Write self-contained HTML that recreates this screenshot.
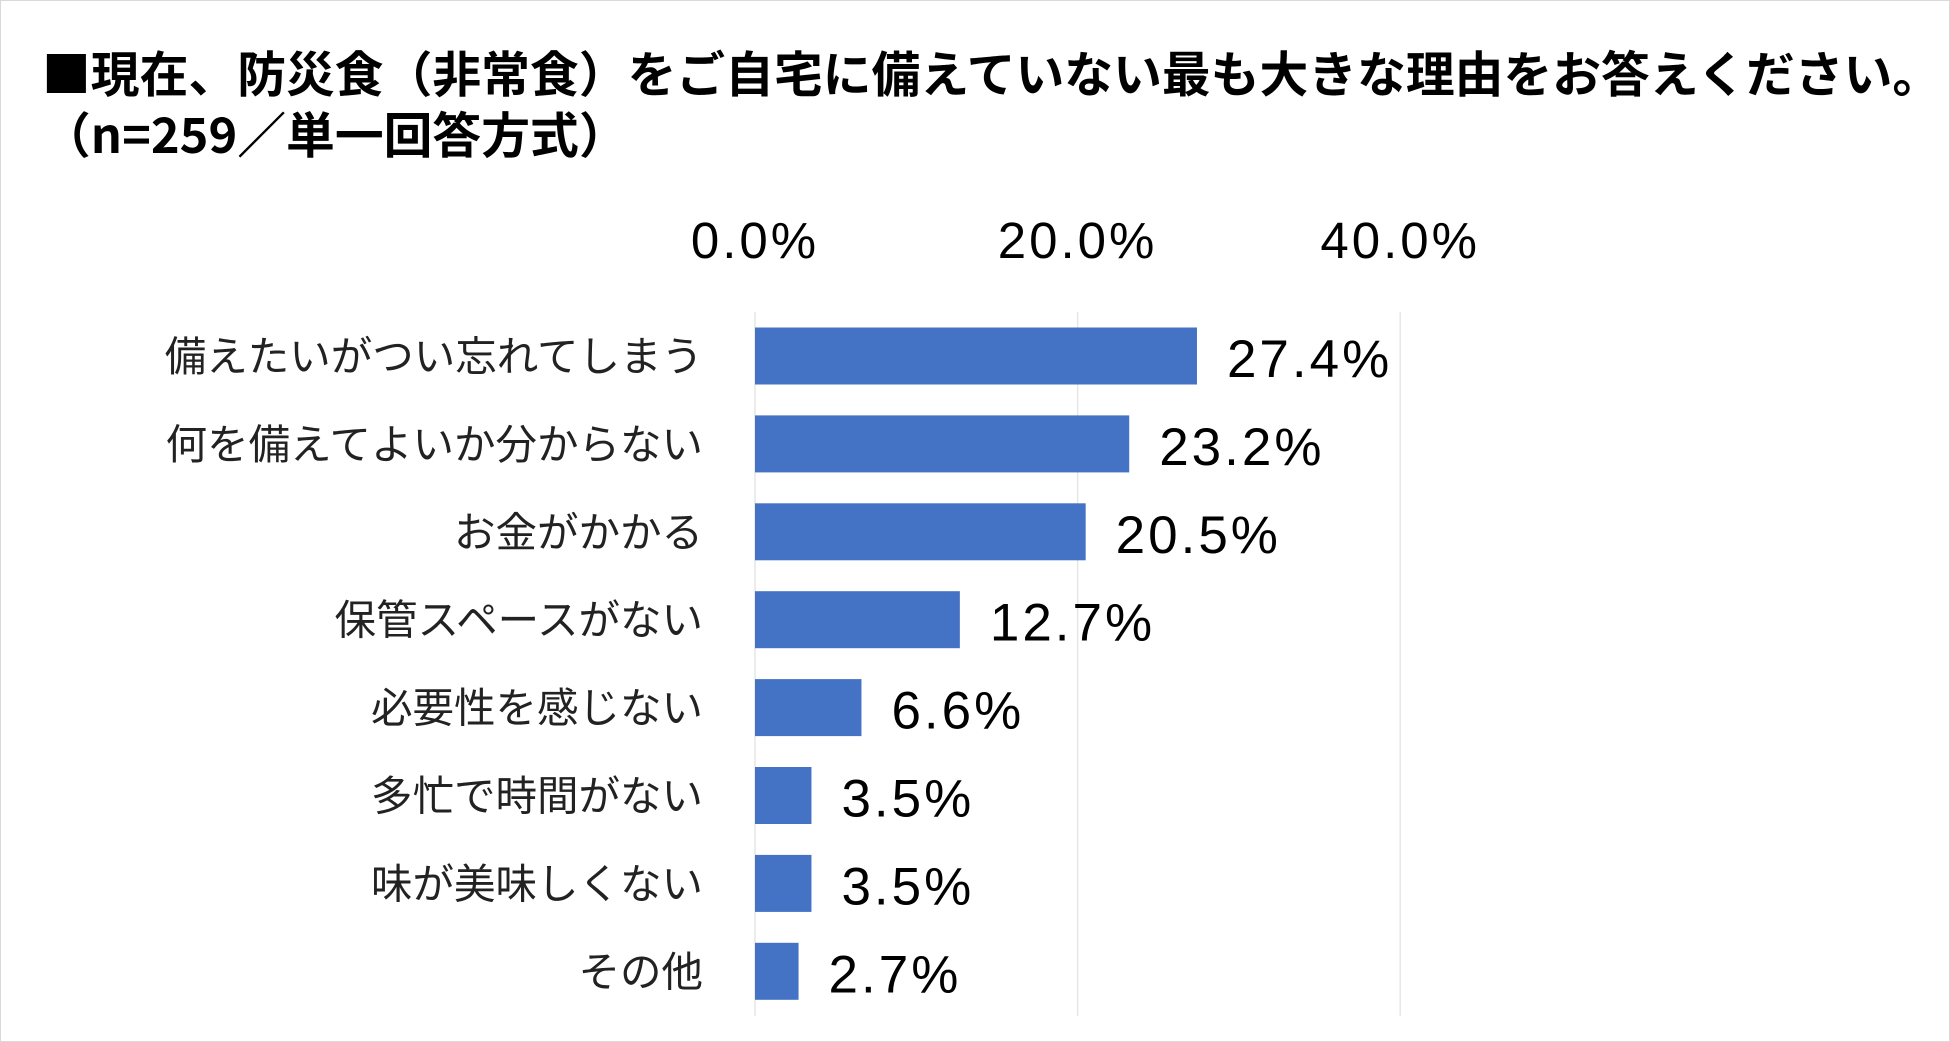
<!DOCTYPE html>
<html><head><meta charset="utf-8">
<style>
html,body{margin:0;padding:0;background:#fff;}
body{width:1950px;height:1042px;position:relative;overflow:hidden;font-family:"Liberation Sans","Noto Sans CJK JP",sans-serif;}
#frame{position:absolute;left:0;top:0;width:1948px;height:1040px;border:1px solid #d9d9d9;}
.title{position:absolute;left:42px;font-weight:bold;font-size:48.8px;color:#000;white-space:nowrap;font-family:"Noto Sans CJK JP",sans-serif;}
</style></head>
<body>
<div id="frame"></div>
<div class="title" style="top:36px">■現在、防災食（非常食）をご自宅に備えていない最も大きな理由をお答えください。</div>
<div class="title" style="top:97px">（n=259／単一回答方式）</div>
<svg id="chart" width="1950" height="1042" style="position:absolute;left:0;top:0"></svg>
<script>
const categories=["備えたいがつい忘れてしまう","何を備えてよいか分からない","お金がかかる","保管スペースがない","必要性を感じない","多忙で時間がない","味が美味しくない","その他"];
const values=[27.4,23.2,20.5,12.7,6.6,3.5,3.5,2.7];
const ticks=[0,20,40];
const svg=document.getElementById('chart');
const NS='http://www.w3.org/2000/svg';
const x0=755,pxPer=322.6/20;
const xs=v=>x0+v*pxPer;
const yc=i=>356+i*87.9;
const barH=57;
function mk(t,a){const e=document.createElementNS(NS,t);for(const k in a)e.setAttribute(k,a[k]);svg.appendChild(e);return e;}
ticks.forEach(t=>{
  const g=mk('line',{x1:xs(t),x2:xs(t),y1:312,y2:1016,stroke:'#e6e6e6','stroke-width':1.5});
  
  
  const l=mk('text',{x:xs(t),y:258,'text-anchor':'middle','font-size':51,'letter-spacing':3,fill:'#000','font-family':'"Liberation Sans",sans-serif'});
  l.textContent=t.toFixed(1)+'%';
  
  
});
categories.forEach((c,i)=>{
  const y=yc(i);
  const r=mk('rect',{x:x0,y:y-barH/2,width:xs(values[i])-x0,height:barH,fill:'#4472c4'});
  
  
  const cl=mk('text',{x:703,y:y+15,'text-anchor':'end','font-size':41.5,fill:'#222','font-family':'"Noto Sans CJK JP",sans-serif'});
  cl.textContent=c;
  
  
  const vl=mk('text',{x:xs(values[i])+30,y:y+21,'font-size':53,'letter-spacing':3,fill:'#000','font-family':'"Liberation Sans",sans-serif'});
  vl.textContent=values[i].toFixed(1)+'%';
  
  
});
</script>
</body></html>
